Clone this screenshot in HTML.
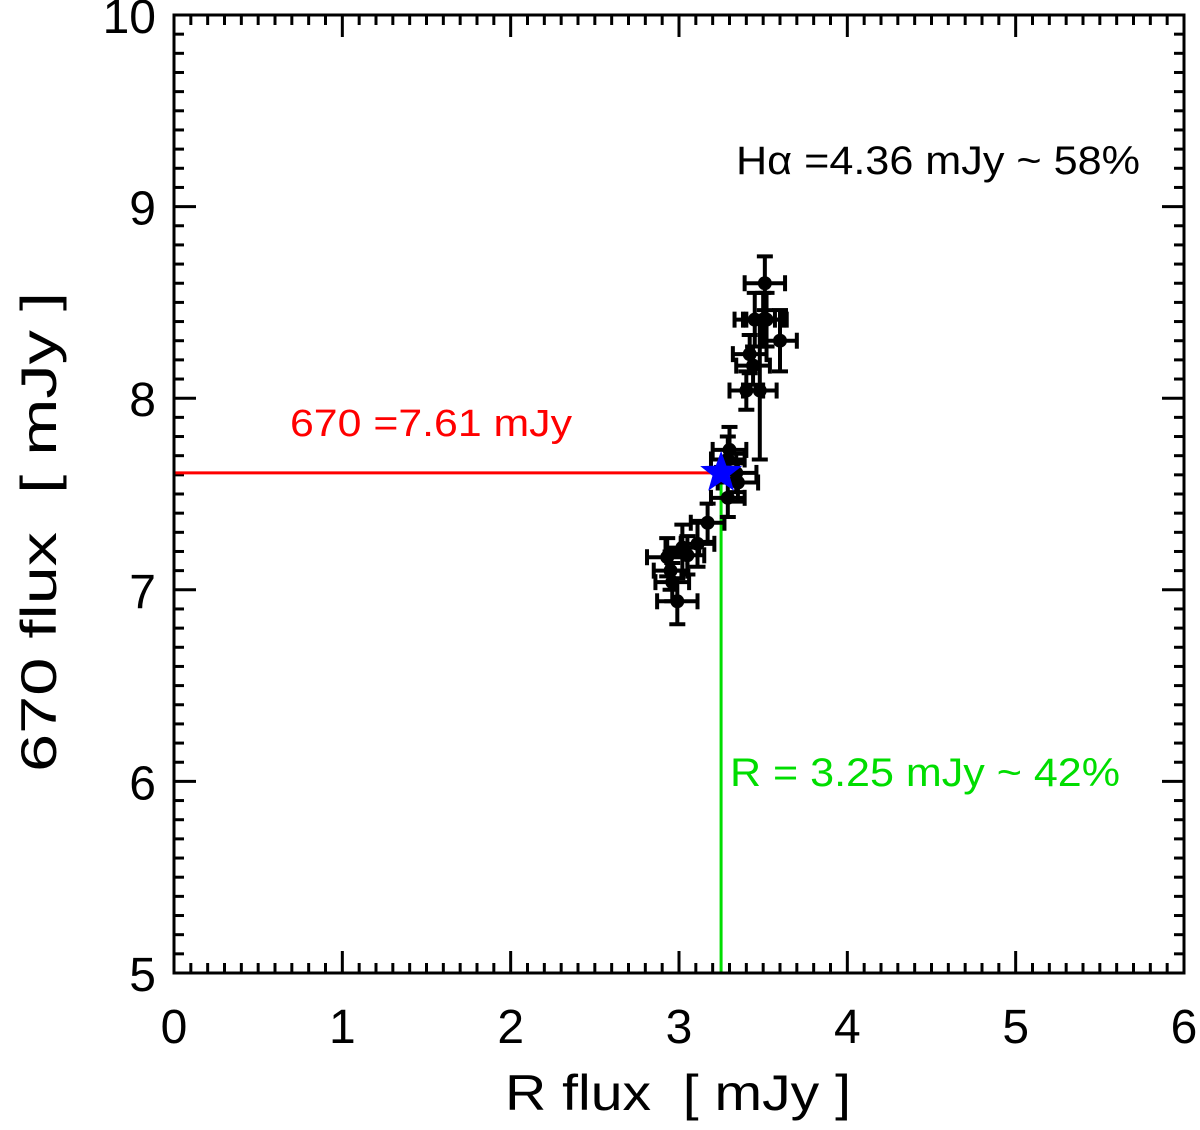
<!DOCTYPE html>
<html><head><meta charset="utf-8"><style>
body{margin:0;background:#fff}
svg text{font-family:"Liberation Sans",sans-serif}
</style></head><body>
<svg id="c" width="1200" height="1125"></svg>
<script>
const xs=[3.51,3.50,3.52,3.45,3.60,3.42,3.44,3.40,3.48,3.30,3.29,3.34,3.35,3.29,3.17,3.11,3.02,2.93,2.95,2.96,2.99,3.05];
const ys=[8.60,8.41,8.41,8.41,8.30,8.23,8.17,8.04,8.04,7.73,7.68,7.61,7.56,7.48,7.35,7.24,7.22,7.17,7.10,7.04,6.94,7.18];
const xerr=[0.12,0.12,0.12,0.12,0.1,0.1,0.1,0.1,0.1,0.1,0.1,0.12,0.12,0.1,0.1,0.1,0.1,0.12,0.1,0.1,0.12,0.1];
const yerr=[0.14,0.14,0.14,0.14,0.16,0.1,0.1,0.1,0.36,0.12,0.12,0.1,0.1,0.1,0.1,0.12,0.12,0.1,0.1,0.1,0.12,0.1];
const xTicks=[0,1,2,3,4,5,6];
const yTicks=[5,6,7,8,9,10];
const starX=3.25, starY=7.61;
const X0=174,X1=1184,Y0=973,Y1=15;
const xs_=v=>X0+(v-0)/6*(X1-X0);
const ys_=v=>Y0-(v-5)/5*(Y0-Y1);
const svg=document.getElementById('c');const NS='http://www.w3.org/2000/svg';
function mk(t,a,p){const e=document.createElementNS(NS,t);for(const k in a)e.setAttribute(k,a[k]);(p||svg).appendChild(e);return e;}
for(let i=0;i<=60;i++){const x=xs_(i/10);const L=i%10==0?22:10;
const t1=mk('line',{x1:x,x2:x,y1:Y0,y2:Y0-L,stroke:'#000','stroke-width':3});

const t2=mk('line',{x1:x,x2:x,y1:Y1,y2:Y1+L,stroke:'#000','stroke-width':3});
}
for(let i=0;i<=50;i++){const y=ys_(5+i/10);const L=i%10==0?22:10;
const t1=mk('line',{x1:X0,x2:X0+L,y1:y,y2:y,stroke:'#000','stroke-width':3});

const t2=mk('line',{x1:X1,x2:X1-L,y1:y,y2:y,stroke:'#000','stroke-width':3});
}
xTicks.forEach(v=>{const t=mk('text',{x:xs_(v),y:1043,'font-size':48,'text-anchor':'middle'});t.textContent=v;
});
yTicks.forEach(v=>{const t=mk('text',{x:156,y:ys_(v)+18,'font-size':48,'text-anchor':'end'});t.textContent=v;
});
const rl=mk('line',{x1:X0,x2:xs_(starX),y1:ys_(starY),y2:ys_(starY),stroke:'#f00','stroke-width':3});

const gl=mk('line',{x1:xs_(starX),x2:xs_(starX),y1:ys_(starY),y2:Y0,stroke:'#0d0','stroke-width':3});

xs.forEach((v,i)=>{const g=mk('g',{stroke:'#000','stroke-width':4,fill:'#000'});

const cx=xs_(v),cy=ys_(ys[i]),a=xs_(v-xerr[i]),b=xs_(v+xerr[i]),c=ys_(ys[i]-yerr[i]),d=ys_(ys[i]+yerr[i]);
mk('line',{x1:a,x2:b,y1:cy,y2:cy},g);mk('line',{x1:a,x2:a,y1:cy-8,y2:cy+8},g);mk('line',{x1:b,x2:b,y1:cy-8,y2:cy+8},g);
mk('line',{x1:cx,x2:cx,y1:c,y2:d},g);mk('line',{x1:cx-8,x2:cx+8,y1:c,y2:c},g);mk('line',{x1:cx-8,x2:cx+8,y1:d,y2:d},g);
mk('circle',{cx:cx,cy:cy,r:7,stroke:'none'},g);});
{const cx=xs_(starX),cy=ys_(starY),R=22,r=9;let p=[];for(let k=0;k<10;k++){const ang=-Math.PI/2+k*Math.PI/5;const rr=k%2?r:R;p.push((cx+rr*Math.cos(ang)).toFixed(1)+','+(cy+rr*Math.sin(ang)).toFixed(1));}
const s=mk('polygon',{points:p.join(' '),fill:'#00f'});}
const f=mk('rect',{x:X0,y:Y1,width:X1-X0,height:Y0-Y1,fill:'none',stroke:'#000','stroke-width':3});

</script>
<script>
(function(){const svg=document.getElementById('c');const NS='http://www.w3.org/2000/svg';
function t(x,y,s,txt,fill,name,len,extra){const e=document.createElementNS(NS,'text');e.setAttribute('x',x);e.setAttribute('y',y);e.setAttribute('font-size',s);e.setAttribute('fill',fill);e.setAttribute('textLength',len);e.setAttribute('lengthAdjust','spacingAndGlyphs');if(extra)e.setAttribute('transform',extra);e.textContent=txt;


svg.appendChild(e);}
t(736,174,40,'Hα =4.36 mJy ~ 58%','#000','halpha-annotation',404);
t(290,436,38,'670 =7.61 mJy','#f00','670-annotation',282);
t(730,786,40,'R = 3.25 mJy ~ 42%','#0d0','r-annotation',390);
t(505,1110,50,'R flux\u00a0\u00a0[ mJy ]','#000','x-axis-title',346);
t(0,0,50,'670 flux\u00a0\u00a0[ mJy ]','#000','y-axis-title',480,'translate(56,772) rotate(-90)');
})();
</script>
</body></html>
